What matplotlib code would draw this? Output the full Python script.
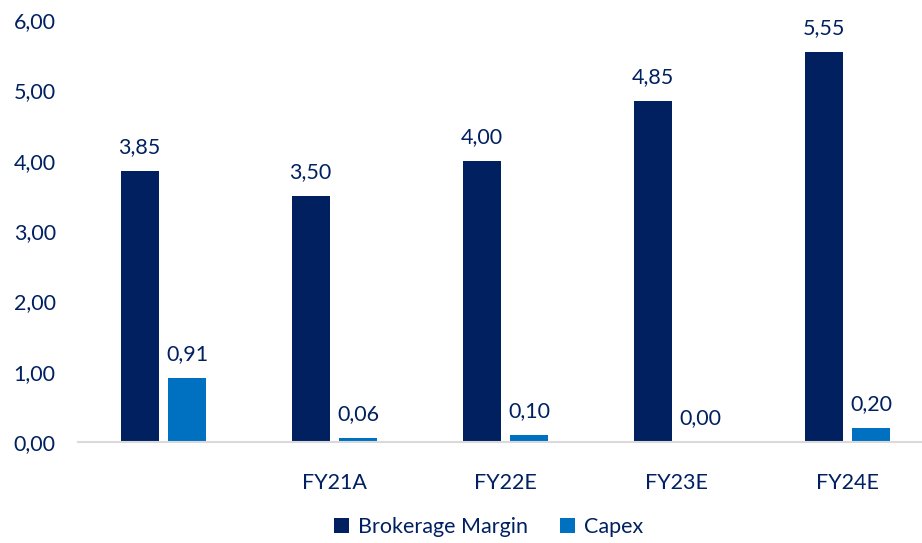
import matplotlib
matplotlib.use('Agg')
import matplotlib.pyplot as plt
import numpy as np

# 数据
categories = ['', 'FY21A', 'FY22E', 'FY23E', 'FY24E']
brokerage = [3.85, 3.50, 4.00, 4.85, 5.55]
capex = [0.91, 0.06, 0.10, 0.00, 0.20]
yticks = [0, 1, 2, 3, 4, 5, 6]

navy = '#002060'
blue = '#0070C0'

plt.rcParams['font.family'] = ['Lato', 'DejaVu Sans']

fig = plt.figure(figsize=(9.22, 5.43), dpi=100)
ax = fig.add_axes([78 / 922, 1 - 442 / 543, 844 / 922, 422 / 543])

x = np.arange(len(categories))
w = 0.222
off = 0.14
b1 = ax.bar(x - off, brokerage, w, color=navy, label='Brokerage Margin')
b2 = ax.bar(x + off, capex, w, color=blue, label='Capex')

# 数据标签
for bars, vals in [(b1, brokerage), (b2, capex)]:
    for rect, v in zip(bars, vals):
        ax.annotate(('%.2f' % v).replace('.', ','),
                    (rect.get_x() + rect.get_width() / 2, v),
                    xytext=(0, 10), textcoords='offset points',
                    ha='center', va='bottom', fontsize=15.5, color=navy)

ax.set_xlim(-0.5, -0.5 + 844 / 171)
ax.set_ylim(0, 6)
ax.set_yticks(yticks)
ax.set_yticklabels([('%.2f' % t).replace('.', ',') for t in yticks])
ax.set_xticks(x)
ax.set_xticklabels(categories)

for s in ['top', 'right', 'left']:
    ax.spines[s].set_visible(False)
ax.spines['bottom'].set_color('#d9d9d9')
ax.spines['bottom'].set_linewidth(1.5)
ax.tick_params(axis='both', length=0, labelsize=15.5, labelcolor=navy)
ax.tick_params(axis='x', pad=22)
ax.tick_params(axis='y', pad=16)

leg = fig.legend(handles=[b1, b2], loc='center', bbox_to_anchor=(0.53, 1 - 527 / 543),
                 ncol=2, frameon=False, fontsize=15.5, handlelength=0.7, handleheight=0.7,
                 handletextpad=0.4, columnspacing=1.5)
for t in leg.get_texts():
    t.set_color(navy)

fig.savefig('out.png', dpi=100)
